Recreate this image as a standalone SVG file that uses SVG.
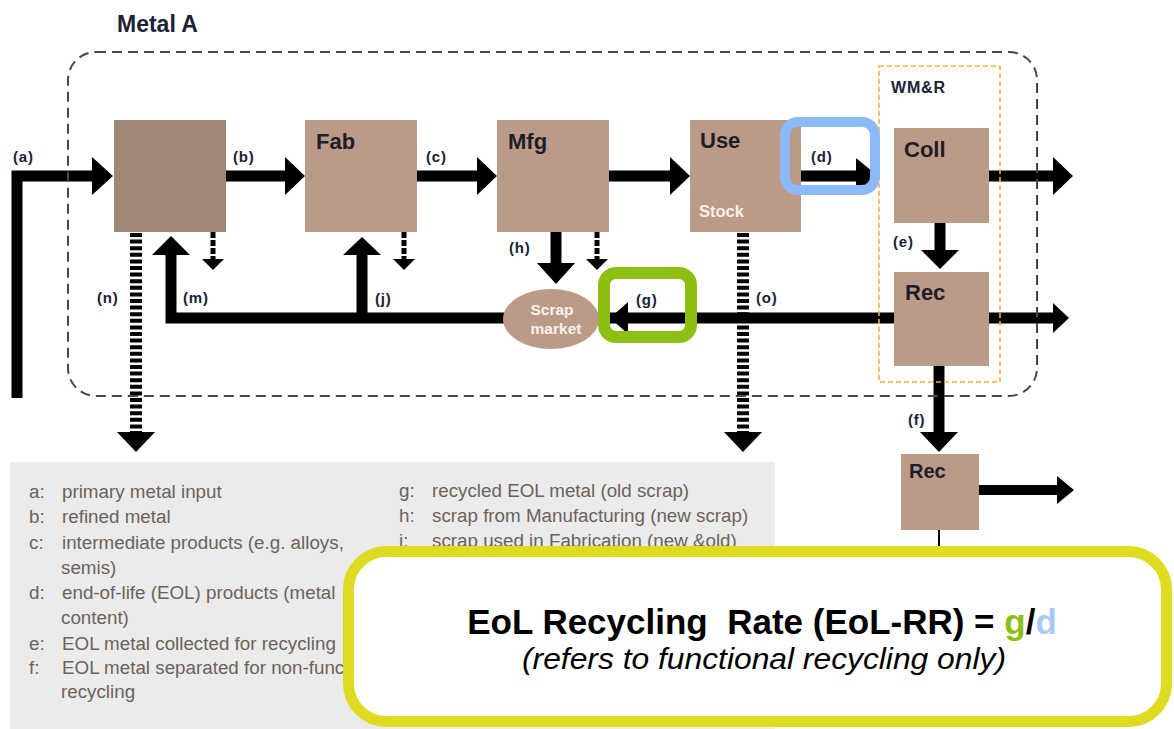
<svg xmlns="http://www.w3.org/2000/svg" width="1174" height="729" viewBox="0 0 1174 729">
<style>
.box1{fill:#a28676}
.box{fill:#bb9a88}
.shaft{stroke:#000;stroke-width:11;fill:none}
.head{fill:#000}
.dot{stroke:#000;stroke-width:12;stroke-dasharray:4 2.6;fill:none}
.dsh{stroke:#000;stroke-width:5;stroke-dasharray:6 2;fill:none}
.lbl{font-family:"Liberation Sans",Arial,sans-serif;font-weight:bold;font-size:15px;fill:#1b2235;letter-spacing:0.8px}
.name{font-family:"Liberation Sans",Arial,sans-serif;font-weight:bold;font-size:22px;fill:#1e1e28}
.leg{font-family:"Liberation Sans",Arial,sans-serif;font-size:18.8px;fill:#6d625a}
</style>

<g id="legend">
<rect x="10" y="462" width="765" height="267" fill="#ebebeb"/>
<text class="leg"><tspan x="29" y="498">a:</tspan><tspan x="62" y="498">primary metal input</tspan></text>
<text class="leg"><tspan x="29" y="523">b:</tspan><tspan x="62" y="523">refined metal</tspan></text>
<text class="leg"><tspan x="29" y="549">c:</tspan><tspan x="62" y="549">intermediate products (e.g. alloys,</tspan></text>
<text class="leg" x="61" y="574">semis)</text>
<text class="leg"><tspan x="29" y="599">d:</tspan><tspan x="62" y="599">end-of-life (EOL) products (metal</tspan></text>
<text class="leg" x="61" y="624">content)</text>
<text class="leg"><tspan x="29" y="650">e:</tspan><tspan x="62" y="650">EOL metal collected for recycling</tspan></text>
<text class="leg"><tspan x="29" y="674">f:</tspan><tspan x="62" y="674">EOL metal separated for non-functional</tspan></text>
<text class="leg" x="61" y="698">recycling</text>
<text class="leg"><tspan x="399" y="497">g:</tspan><tspan x="432" y="497">recycled EOL metal (old scrap)</tspan></text>
<text class="leg"><tspan x="399" y="522">h:</tspan><tspan x="432" y="522">scrap from Manufacturing (new scrap)</tspan></text>
<text class="leg"><tspan x="399" y="547">i:</tspan><tspan x="432" y="547">scrap used in Fabrication (new &amp;old)</tspan></text>
</g>

<g id="connectors">
<path class="shaft" d="M17 398 V176 H94"/>
<polygon class="head" points="92,157 113,176 92,195"/>
<line class="shaft" x1="226" y1="176" x2="287" y2="176"/>
<polygon class="head" points="285,157 305,176 285,195"/>
<line class="shaft" x1="417" y1="176" x2="479" y2="176"/>
<polygon class="head" points="477,157 497,176 477,195"/>
<line class="shaft" x1="609" y1="176" x2="672" y2="176"/>
<polygon class="head" points="670,157 690,176 670,195"/>
<line class="shaft" x1="801" y1="176" x2="858" y2="176"/>
<polygon class="head" points="856,158 878,176 856,194"/>
<line class="shaft" x1="989" y1="176" x2="1055" y2="176"/>
<polygon class="head" points="1053,157 1073,176 1053,195"/>
<line class="shaft" x1="940" y1="223" x2="940" y2="252"/>
<polygon class="head" points="921,250 959,250 940,269"/>
<line class="shaft" x1="989" y1="318" x2="1055" y2="318"/>
<polygon class="head" points="1053,303 1069,318 1053,333"/>
<line class="shaft" x1="939" y1="366" x2="939" y2="434"/>
<polygon class="head" points="920,432 958,432 939,452"/>
<line class="shaft" style="stroke-width:10" x1="978" y1="490" x2="1059" y2="490"/>
<polygon class="head" points="1057,476 1074,490 1057,504"/>
<line x1="939" y1="530" x2="939" y2="550" stroke="#000" stroke-width="2"/>
<path class="shaft" d="M894 318 H171 V253"/>
<polygon class="head" points="152,255 190,255 171,236"/>
<line class="shaft" x1="362" y1="318" x2="362" y2="253"/>
<polygon class="head" points="343,255 381,255 362,237"/>
<polygon class="head" points="628,302 610,318 628,334"/>
<line class="shaft" x1="556" y1="232" x2="556" y2="265"/>
<polygon class="head" points="537,263 575,263 556,284"/>
<line class="dsh" x1="213" y1="232" x2="213" y2="260"/>
<polygon class="head" points="202,259 224,259 213,270"/>
<line class="dsh" x1="404" y1="232" x2="404" y2="260"/>
<polygon class="head" points="393,259 415,259 404,270"/>
<line class="dsh" x1="597" y1="232" x2="597" y2="260"/>
<polygon class="head" points="586,259 608,259 597,270"/>
<line class="dot" x1="136" y1="233" x2="136" y2="433"/>
<polygon class="head" points="117,432 155,432 136,452"/>
<line class="dot" x1="743" y1="233" x2="743" y2="433"/>
<polygon class="head" points="724,432 762,432 743,452"/>
<text class="lbl" x="13" y="162">(a)</text>
<text class="lbl" x="233" y="162">(b)</text>
<text class="lbl" x="426" y="162">(c)</text>
<text class="lbl" x="811" y="162">(d)</text>
<text class="lbl" x="893" y="247">(e)</text>
<text class="lbl" x="908" y="425">(f)</text>
<text class="lbl" x="636" y="305">(g)</text>
<text class="lbl" x="509" y="253">(h)</text>
<text class="lbl" x="375" y="304">(j)</text>
<text class="lbl" x="183" y="303">(m)</text>
<text class="lbl" x="97" y="303">(n)</text>
<text class="lbl" x="756" y="303">(o)</text>
</g>

<g id="metalA">
<rect x="68" y="52" width="969" height="344" rx="28" fill="none" stroke="#484848" stroke-width="2" stroke-dasharray="10 6"/>
<text x="117" y="32" font-family="Liberation Sans, Arial, sans-serif" font-weight="bold" font-size="23" fill="#1b2235">Metal A</text>
</g>
<g id="wmr">
<rect x="879" y="66" width="121" height="316" fill="none" stroke="#f6ae4c" stroke-width="1.6" stroke-dasharray="5 3"/>
<text x="891" y="93" font-family="Liberation Sans, Arial, sans-serif" font-weight="bold" font-size="16" letter-spacing="0.8" fill="#1b2235">WM&amp;R</text>
</g>

<g id="refining"><rect class="box1" x="114" y="120" width="112" height="112"/></g>
<g id="fab"><rect class="box" x="305" y="120" width="112" height="112"/><text class="name" x="316" y="149">Fab</text></g>
<g id="mfg"><rect class="box" x="497" y="120" width="112" height="112"/><text class="name" x="508" y="149">Mfg</text></g>
<g id="use"><rect class="box" x="690" y="120" width="111" height="112"/><text class="name" x="700" y="148">Use</text>
<text x="699" y="217" font-family="Liberation Sans, Arial, sans-serif" font-weight="bold" font-size="16.5" fill="#f6f0ec">Stock</text></g>
<g id="coll"><rect class="box" x="894" y="128" width="95" height="95"/><text class="name" x="904" y="157">Coll</text></g>
<g id="rec"><rect class="box" x="894" y="272" width="95" height="94"/><text class="name" x="905" y="300">Rec</text></g>
<g id="rec2"><rect class="box" x="901" y="454" width="78" height="76"/><text class="name" style="font-size:20px" x="909" y="478">Rec</text></g>
<g id="scrap"><ellipse cx="551" cy="319" rx="48" ry="30" fill="#bb9a88"/>
<text x="552" y="315" text-anchor="middle" font-family="Liberation Sans, Arial, sans-serif" font-weight="bold" font-size="15.5" fill="#f8f2ee">Scrap</text>
<text x="556" y="334" text-anchor="middle" font-family="Liberation Sans, Arial, sans-serif" font-weight="bold" font-size="15.5" fill="#f8f2ee">market</text></g>

<g id="highlight-d"><rect x="785" y="122" width="90" height="68" rx="13" fill="none" stroke="#8cbaf8" stroke-width="10"/></g>
<g id="highlight-g"><rect x="604" y="273" width="87" height="64" rx="12" fill="none" stroke="#8fbe12" stroke-width="12"/></g>

<g id="formula">
<rect x="348.5" y="551.5" width="818" height="170" rx="38" fill="#fff" stroke="#dedb20" stroke-width="11"/>
<text x="762" y="634" text-anchor="middle" xml:space="preserve" font-family="Liberation Sans, Arial, sans-serif" font-weight="bold" font-size="35" fill="#000">EoL Recycling  Rate (EoL-RR) = <tspan fill="#8fbe12">g</tspan>/<tspan fill="#a9c9f5">d</tspan></text>
<text x="764" y="669" text-anchor="middle" font-family="Liberation Sans, Arial, sans-serif" font-style="italic" font-size="30" textLength="484" lengthAdjust="spacingAndGlyphs" fill="#000">(refers to functional recycling only)</text>
</g>
</svg>
